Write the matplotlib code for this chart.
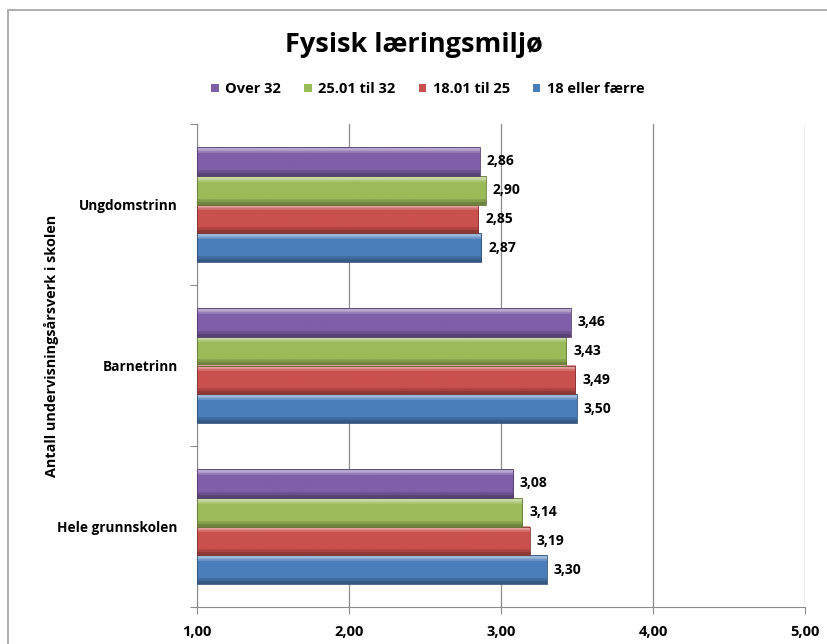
import numpy as np
import matplotlib
matplotlib.use("Agg")
import matplotlib.pyplot as plt
from matplotlib.colors import to_rgb
from matplotlib.patches import Rectangle, Patch

categories = ["Hele grunnskolen", "Barnetrinn", "Ungdomstrinn"]
series_names = ["Over 32", "25.01 til 32", "18.01 til 25", "18 eller færre"]
over_32 = [3.08, 3.46, 2.86]
s25_32 = [3.14, 3.43, 2.90]
s18_25 = [3.19, 3.49, 2.85]
le_18 = [3.30, 3.50, 2.87]
x_ticks = [1, 2, 3, 4, 5]
x_tick_labels = ["1,00", "2,00", "3,00", "4,00", "5,00"]

colors = {"Over 32": "#7F5FA8", "25.01 til 32": "#9BBB59",
          "18.01 til 25": "#C9504D", "18 eller færre": "#4A7EBB"}
values = {"Over 32": over_32, "25.01 til 32": s25_32,
          "18.01 til 25": s18_25, "18 eller færre": le_18}

FONT = ["Open Sans", "DejaVu Sans"]
plt.rcParams['font.family'] = FONT

fig = plt.figure(figsize=(8.27, 6.44), dpi=100)
# chart-area border (cropped on right and bottom as in the reference)
fig.patches.append(Rectangle((8/827, -0.1), 1.2, 1.1 - 10/644, transform=fig.transFigure,
                             fill=False, edgecolor="#A8A8A8", linewidth=1.3, clip_on=False))
ax = fig.add_axes([197/827, 1-607/644, (805-197)/827, (607-124)/644])

bar_h = 0.18
order = ["18 eller færre", "18.01 til 25", "25.01 til 32", "Over 32"]
y = np.arange(len(categories))

def shade(c, f):
    r = np.array(to_rgb(c))
    if f >= 0:
        return r + (1 - r) * f
    return r * (1 + f)

for i, name in enumerate(order):
    offs = (i - 1.5) * bar_h
    vals = values[name]
    bars = ax.barh(y + offs, np.array(vals) - 1, left=1, height=bar_h,
                   color=colors[name], edgecolor="none", zorder=2)
    n = 40
    t = np.linspace(0, 1, n)
    grad = np.zeros((n, 1, 3))
    for k, tt in enumerate(t):
        if tt > 0.88:
            f = 0.45
        elif tt > 0.8:
            f = 0.2
        elif tt < 0.1:
            f = -0.3
        elif tt < 0.18:
            f = -0.15
        else:
            f = 0.0
        grad[k, 0, :] = np.clip(shade(colors[name], f), 0, 1)
    for b, v in zip(bars, vals):
        x0, y0 = b.get_x(), b.get_y()
        w, h = b.get_width(), b.get_height()
        ax.imshow(grad, extent=[x0, x0 + w, y0, y0 + h], origin="lower",
                  aspect="auto", zorder=3, interpolation="bilinear")
        ax.add_patch(Rectangle((x0, y0), w, h, fill=False,
                               edgecolor=shade(colors[name], -0.35), linewidth=0.6, zorder=4))
        ax.text(v + 0.045, y0 + h / 2, f"{v:.2f}".replace(".", ","), va="center",
                ha="left", fontsize=10, fontweight="bold", zorder=5)

ax.set_xlim(1, 5)
ax.set_ylim(-0.5, 2.5)
ax.set_xticks(x_ticks)
ax.set_xticklabels(x_tick_labels, fontsize=10.5, fontweight="bold")
ax.xaxis.grid(True, color="#8C8C8C", linewidth=0.9, zorder=0)
ax.set_axisbelow(True)
ax.set_yticks([-0.5, 0.5, 1.5, 2.5])
ax.set_yticklabels([])
ax.set_yticks(y, minor=True)
ax.set_yticklabels(categories, minor=True, fontsize=9.8, fontweight="bold")
ax.tick_params(axis="y", which="minor", length=0, pad=14)
ax.tick_params(axis="y", which="major", length=5, color="#8C8C8C")
ax.tick_params(axis="x", length=5, color="#8C8C8C", pad=8)
for s in ["top", "right"]:
    ax.spines[s].set_visible(False)
for s in ["left", "bottom"]:
    ax.spines[s].set_color("#8C8C8C")

fig.text(52/827, 1 - 346/644, "Antall undervisningsårsverk i skolen", rotation=90,
         ha="center", va="center", fontsize=10.4, fontweight="bold")

fig.text(0.5, 1 - 45/644, "Fysisk læringsmiljø", ha="center", va="center",
         fontsize=19.5, fontweight="bold")

handles = [Patch(facecolor=colors[n], edgecolor="none") for n in series_names]
fig.legend(handles, series_names, loc="center", bbox_to_anchor=(428/827, 1 - 89/644),
           ncol=4, frameon=False, prop={"family": FONT, "weight": "bold", "size": 10.5},
           handlelength=0.5, handleheight=0.5, handletextpad=0.45, columnspacing=1.6)

fig.savefig("out.png", dpi=100)
